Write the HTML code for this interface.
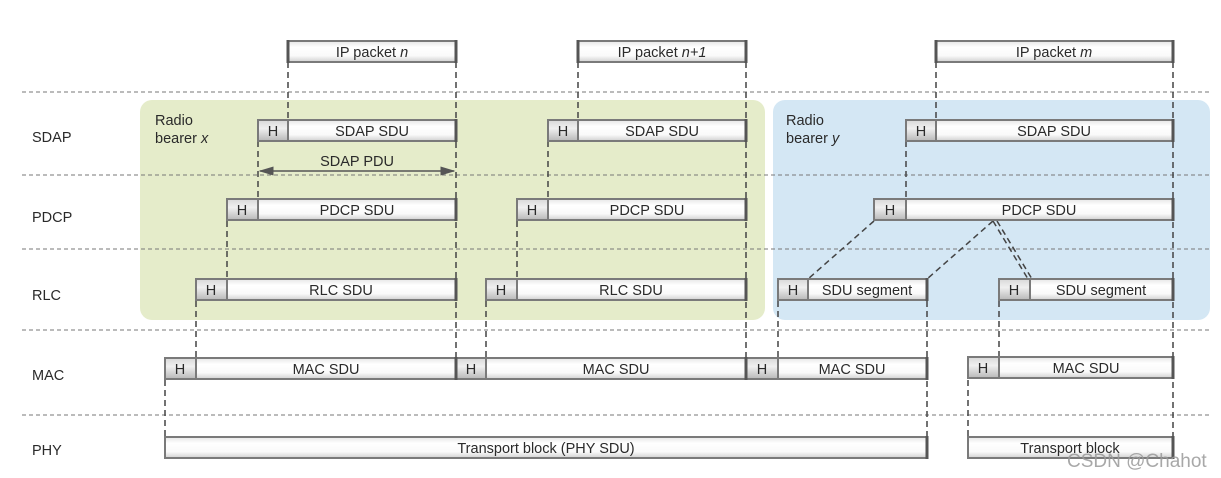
<!DOCTYPE html>
<html><head><meta charset="utf-8"><style>
html,body{margin:0;padding:0;background:#fff;width:1221px;height:478px;overflow:hidden}
text{font-family:"Liberation Sans",sans-serif;font-size:14.5px;fill:#2a2a2a}
</style></head><body>
<svg width="1221" height="478" viewBox="0 0 1221 478" xmlns="http://www.w3.org/2000/svg">
<defs>
<linearGradient id="g" x1="0" y1="0" x2="0" y2="1">
<stop offset="0" stop-color="#e6e6e6"/><stop offset="0.3" stop-color="#fff"/><stop offset="0.7" stop-color="#fafafa"/><stop offset="1" stop-color="#d0d0d0"/></linearGradient>
<linearGradient id="gh" x1="0" y1="0" x2="0" y2="1">
<stop offset="0" stop-color="#d8d8d8"/><stop offset="0.4" stop-color="#f0f0f0"/><stop offset="1" stop-color="#b8b8b8"/></linearGradient>
<marker id="ar" markerWidth="10" markerHeight="8" refX="9" refY="4" orient="auto"><path d="M0,1 L10,4 L0,7 z" fill="#555"/></marker>
<marker id="al" markerWidth="10" markerHeight="8" refX="1" refY="4" orient="auto"><path d="M10,1 L0,4 L10,7 z" fill="#555"/></marker>
</defs>
<rect x="140" y="100" width="625" height="220" rx="12" fill="#e5ecca"/>
<rect x="773" y="100" width="437" height="220" rx="12" fill="#d4e7f4"/>
<g stroke="#777" stroke-width="1" stroke-dasharray="4,3">
<line x1="22" y1="92" x2="1212" y2="92"/>
<line x1="22" y1="175" x2="1212" y2="175"/>
<line x1="22" y1="249" x2="1212" y2="249"/>
<line x1="22" y1="330" x2="1212" y2="330"/>
<line x1="22" y1="415" x2="1212" y2="415"/>
</g>
<g stroke="#444" stroke-width="1.5" stroke-dasharray="6,4" fill="none">
<line x1="288" y1="62" x2="288" y2="120"/>
<line x1="456" y1="62" x2="456" y2="358"/>
<line x1="258" y1="141" x2="258" y2="199"/>
<line x1="227" y1="221" x2="227" y2="279"/>
<line x1="196" y1="301" x2="196" y2="358"/>
<line x1="165" y1="380" x2="165" y2="437"/>
<line x1="578" y1="62" x2="578" y2="120"/>
<line x1="746" y1="62" x2="746" y2="358"/>
<line x1="548" y1="141" x2="548" y2="199"/>
<line x1="517" y1="221" x2="517" y2="279"/>
<line x1="486" y1="301" x2="486" y2="358"/>
<line x1="936" y1="62" x2="936" y2="120"/>
<line x1="1173" y1="62" x2="1173" y2="437"/>
<line x1="906" y1="141" x2="906" y2="199"/>
<line x1="927" y1="301" x2="927" y2="437"/>
<line x1="778" y1="301" x2="778" y2="358"/>
<line x1="999" y1="301" x2="999" y2="358"/>
<line x1="968" y1="380" x2="968" y2="437"/>
<line x1="874" y1="221" x2="808" y2="279"/>
<line x1="993" y1="221" x2="927" y2="279"/>
<line x1="993" y1="221" x2="1028" y2="279"/>
<line x1="997" y1="221" x2="1032" y2="279"/>
</g>
<line x1="260" y1="171" x2="454" y2="171" stroke="#555" stroke-width="1.5" marker-start="url(#al)" marker-end="url(#ar)"/>
<text x="357" y="166" text-anchor="middle">SDAP PDU</text>
<text x="32" y="142">SDAP</text>
<text x="32" y="222">PDCP</text>
<text x="32" y="300">RLC</text>
<text x="32" y="380">MAC</text>
<text x="32" y="455">PHY</text>
<text x="155" y="125">Radio</text>
<text x="155" y="143">bearer <tspan font-style="italic">x</tspan></text>
<text x="786" y="125">Radio</text>
<text x="786" y="143">bearer <tspan font-style="italic">y</tspan></text>
<g stroke="#7a7a7a" stroke-width="2">
<rect x="288" y="41" width="168" height="21" fill="url(#g)"/>
<rect x="578" y="41" width="168" height="21" fill="url(#g)"/>
<rect x="936" y="41" width="237" height="21" fill="url(#g)"/>
<rect x="258" y="120" width="30" height="21" fill="url(#gh)"/><rect x="288" y="120" width="168" height="21" fill="url(#g)"/>
<rect x="548" y="120" width="30" height="21" fill="url(#gh)"/><rect x="578" y="120" width="168" height="21" fill="url(#g)"/>
<rect x="906" y="120" width="30" height="21" fill="url(#gh)"/><rect x="936" y="120" width="237" height="21" fill="url(#g)"/>
<rect x="227" y="199" width="31" height="21" fill="url(#gh)"/><rect x="258" y="199" width="198" height="21" fill="url(#g)"/>
<rect x="517" y="199" width="31" height="21" fill="url(#gh)"/><rect x="548" y="199" width="198" height="21" fill="url(#g)"/>
<rect x="874" y="199" width="32" height="21" fill="url(#gh)"/><rect x="906" y="199" width="267" height="21" fill="url(#g)"/>
<rect x="196" y="279" width="31" height="21" fill="url(#gh)"/><rect x="227" y="279" width="229" height="21" fill="url(#g)"/>
<rect x="486" y="279" width="31" height="21" fill="url(#gh)"/><rect x="517" y="279" width="229" height="21" fill="url(#g)"/>
<rect x="778" y="279" width="30" height="21" fill="url(#gh)"/><rect x="808" y="279" width="119" height="21" fill="url(#g)"/>
<rect x="999" y="279" width="31" height="21" fill="url(#gh)"/><rect x="1030" y="279" width="143" height="21" fill="url(#g)"/>
<rect x="165" y="358" width="31" height="21" fill="url(#gh)"/><rect x="196" y="358" width="260" height="21" fill="url(#g)"/>
<rect x="456" y="358" width="30" height="21" fill="url(#gh)"/><rect x="486" y="358" width="260" height="21" fill="url(#g)"/>
<rect x="746" y="358" width="32" height="21" fill="url(#gh)"/><rect x="778" y="358" width="149" height="21" fill="url(#g)"/>
<rect x="968" y="357" width="31" height="21" fill="url(#gh)"/><rect x="999" y="357" width="174" height="21" fill="url(#g)"/>
<rect x="165" y="437" width="762" height="21" fill="url(#g)"/>
<rect x="968" y="437" width="205" height="21" fill="url(#g)"/>
</g>
<g stroke="#555" stroke-width="3">
<line x1="288" y1="40" x2="288" y2="63"/><line x1="456" y1="40" x2="456" y2="63"/>
<line x1="578" y1="40" x2="578" y2="63"/><line x1="746" y1="40" x2="746" y2="63"/>
<line x1="936" y1="40" x2="936" y2="63"/><line x1="1173" y1="40" x2="1173" y2="63"/>
<line x1="456" y1="119" x2="456" y2="142"/><line x1="746" y1="119" x2="746" y2="142"/><line x1="1173" y1="119" x2="1173" y2="142"/>
<line x1="456" y1="198" x2="456" y2="221"/><line x1="746" y1="198" x2="746" y2="221"/><line x1="1173" y1="198" x2="1173" y2="221"/>
<line x1="456" y1="278" x2="456" y2="301"/><line x1="746" y1="278" x2="746" y2="301"/><line x1="927" y1="278" x2="927" y2="301"/><line x1="1173" y1="278" x2="1173" y2="301"/>
<line x1="456" y1="357" x2="456" y2="380"/><line x1="746" y1="357" x2="746" y2="380"/><line x1="927" y1="357" x2="927" y2="380"/><line x1="1173" y1="356" x2="1173" y2="379"/>
<line x1="927" y1="436" x2="927" y2="459"/><line x1="1173" y1="436" x2="1173" y2="459"/>
</g>
<g text-anchor="middle">
<text x="372" y="57">IP packet <tspan font-style="italic">n</tspan></text>
<text x="662" y="57">IP packet <tspan font-style="italic">n+1</tspan></text>
<text x="1054" y="57">IP packet <tspan font-style="italic">m</tspan></text>
<text x="273" y="136">H</text><text x="372" y="136">SDAP SDU</text>
<text x="563" y="136">H</text><text x="662" y="136">SDAP SDU</text>
<text x="921" y="136">H</text><text x="1054" y="136">SDAP SDU</text>
<text x="242" y="215">H</text><text x="357" y="215">PDCP SDU</text>
<text x="532" y="215">H</text><text x="647" y="215">PDCP SDU</text>
<text x="890" y="215">H</text><text x="1039" y="215">PDCP SDU</text>
<text x="211" y="295">H</text><text x="341" y="295">RLC SDU</text>
<text x="501" y="295">H</text><text x="631" y="295">RLC SDU</text>
<text x="793" y="295">H</text><text x="867" y="295">SDU segment</text>
<text x="1014" y="295">H</text><text x="1101" y="295">SDU segment</text>
<text x="180" y="374">H</text><text x="326" y="374">MAC SDU</text>
<text x="471" y="374">H</text><text x="616" y="374">MAC SDU</text>
<text x="762" y="374">H</text><text x="852" y="374">MAC SDU</text>
<text x="983" y="373">H</text><text x="1086" y="373">MAC SDU</text>
<text x="546" y="453">Transport block (PHY SDU)</text>
<text x="1070" y="453">Transport block</text>
</g>
<text x="1067" y="467" style="font-size:19px;fill:#9a9a9a;opacity:0.85">CSDN @Chahot</text>
</svg>
</body></html>
